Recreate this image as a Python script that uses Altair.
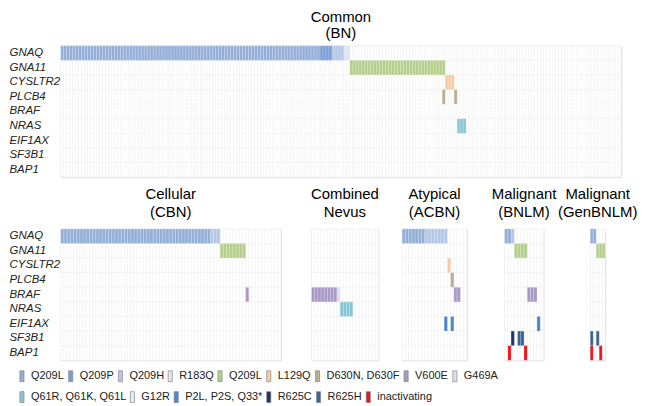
import altair as alt
import pandas as pd

GENES = ["GNAQ", "GNA11", "CYSLTR2", "PLCB4", "BRAF", "NRAS", "EIF1AX", "SF3B1", "BAP1"]

# legend row 1 (first colour scale)
KEYS_1 = ["GNAQ:Q209L", "GNAQ:Q209P", "GNAQ:Q209H", "GNAQ:R183Q", "GNA11:Q209L",
          "CYSLTR2:L129Q", "PLCB4:D630N, D630F", "BRAF:V600E", "BRAF:G469A"]
COLORS_1 = ["#93afd7", "#7a9fd7", "#b4c7e6", "#dbe5f3", "#b3cf8b",
            "#f9c9a3", "#b6ae8d", "#a898c7", "#e2dcec"]
# legend row 2 (second colour scale)
KEYS_2 = ["NRAS:Q61R, Q61K, Q61L", "NRAS:G12R", "EIF1AX:P2L, P2S, Q33*",
          "SF3B1:R625C", "SF3B1:R625H", "BAP1:inactivating"]
COLORS_2 = ["#86c6d5", "#dcedf3", "#4e84c9", "#1c355e", "#3b6396", "#e8141b"]

# panels: title, number of samples
TITLES = [["Common", "(BN)"], ["Cellular", "(CBN)"], ["Combined", "Nevus"],
          ["Atypical", "(ACBN)"], ["Malignant", "(BNLM)"], ["Malignant", "(GenBNLM)"]]
N_SAMPLES = [188, 69, 21, 20, 12, 5]
WIDTHS = [563, 221, 67, 65, 39, 15]
GAPS = [31, 24, 38, 47]

# mutation runs per panel: key, first sample, number of samples
BN_KEY = ["GNAQ:Q209L", "GNAQ:Q209P", "GNAQ:Q209H", "GNAQ:R183Q", "GNA11:Q209L",
          "CYSLTR2:L129Q", "PLCB4:D630N, D630F", "PLCB4:D630N, D630F", "NRAS:Q61R, Q61K, Q61L"]
BN_START = [0, 87, 91, 95, 97, 129, 128, 132, 133]
BN_COUNT = [87, 4, 4, 2, 32, 3, 1, 1, 3]

CBN_KEY = ["GNAQ:Q209L", "GNAQ:Q209H", "GNA11:Q209L", "BRAF:V600E"]
CBN_START = [0, 47, 50, 58]
CBN_COUNT = [47, 3, 8, 1]

COMB_KEY = ["BRAF:V600E", "BRAF:G469A", "NRAS:Q61R, Q61K, Q61L"]
COMB_START = [0, 8, 9]
COMB_COUNT = [8, 1, 4]

ACBN_KEY = ["GNAQ:Q209L", "GNAQ:Q209H", "CYSLTR2:L129Q", "PLCB4:D630N, D630F", "BRAF:V600E",
            "EIF1AX:P2L, P2S, Q33*", "EIF1AX:P2L, P2S, Q33*"]
ACBN_START = [0, 7, 14, 15, 16, 13, 15]
ACBN_COUNT = [7, 7, 1, 1, 2, 1, 1]

BNLM_KEY = ["GNAQ:Q209L", "GNAQ:Q209H", "GNA11:Q209L", "BRAF:V600E", "EIF1AX:P2L, P2S, Q33*",
            "SF3B1:R625C", "SF3B1:R625H", "BAP1:inactivating", "BAP1:inactivating"]
BNLM_START = [0, 2, 3, 7, 10, 2, 4, 1, 6]
BNLM_COUNT = [2, 1, 4, 3, 1, 1, 2, 1, 1]

GEN_KEY = ["GNAQ:Q209L", "GNA11:Q209L", "SF3B1:R625H", "SF3B1:R625H",
           "BAP1:inactivating", "BAP1:inactivating"]
GEN_START = [0, 2, 0, 2, 0, 3]
GEN_COUNT = [2, 3, 1, 1, 1, 1]

RUNS = [(BN_KEY, BN_START, BN_COUNT), (CBN_KEY, CBN_START, CBN_COUNT),
        (COMB_KEY, COMB_START, COMB_COUNT), (ACBN_KEY, ACBN_START, ACBN_COUNT),
        (BNLM_KEY, BNLM_START, BNLM_COUNT), (GEN_KEY, GEN_START, GEN_COUNT)]

FONT = "Liberation Sans"
BAR_PATH = "M-0.38,-1H0.38V1H-0.38Z"
LABEL_EXPR = "substring(datum.label, indexof(datum.label, ':') + 1)"


def make_legend(x, y, n):
    return alt.Legend(orient="none", legendX=x, legendY=y, direction="horizontal",
                      columns=n, labelExpr=LABEL_EXPR, symbolType=BAR_PATH,
                      symbolSize=121, symbolStrokeColor="#8a8a8a", symbolStrokeWidth=0.7,
                      symbolOpacity=1, labelFont=FONT, labelFontSize=11, labelColor="#222222",
                      columnPadding=0, labelOffset=3, padding=0)


LEG1 = make_legend(-45, 326, len(KEYS_1))
LEG2 = make_legend(-45, 347, len(KEYS_2))


def panel(i, show_axis, lh, off):
    n = N_SAMPLES[i]
    keys, starts, counts = RUNS[i]
    bg = pd.DataFrame([(s, g) for s in range(n) for g in GENES], columns=["s", "gene"])
    rows = []
    for k, st, c in zip(keys, starts, counts):
        gene = k.split(":")[0]
        grp = 1 if k in KEYS_1 else 2
        for s in range(st, st + c):
            rows.append({"s": s, "gene": gene, "key": k, "grp": grp})
    mut = pd.DataFrame(rows, columns=["s", "gene", "key", "grp"])

    xs = alt.Scale(domain=[0, n], nice=False, zero=False)
    ys = alt.Scale(domain=GENES, paddingInner=0, paddingOuter=0)
    if show_axis:
        yax = alt.Axis(labelAlign="left", labelPadding=52, ticks=False, tickSize=0,
                       domain=False, labelFont=FONT, labelFontStyle="italic",
                       labelFontSize=11.5, labelColor="#222222", labelBaseline="middle")
    else:
        yax = None
    enc = dict(x=alt.X("s:Q", scale=xs, axis=None), x2="e:Q",
               y=alt.Y("gene:N", scale=ys, axis=yax, title=None))

    bgl = (alt.Chart(bg).transform_calculate(e="datum.s + 1")
           .mark_rect(fill="white", stroke="#efefef", strokeWidth=0.5).encode(**enc))
    l1 = (alt.Chart(mut).transform_filter("datum.grp == 1").transform_calculate(e="datum.s + 1")
          .mark_rect(stroke="white", strokeWidth=0.4, strokeOpacity=0.5)
          .encode(**enc, color=alt.Color("key:N", title=None,
                                         scale=alt.Scale(domain=KEYS_1, range=COLORS_1),
                                         legend=LEG1)))
    l2 = (alt.Chart(mut).transform_filter("datum.grp == 2").transform_calculate(e="datum.s + 1")
          .mark_rect(stroke="white", strokeWidth=0.4, strokeOpacity=0.5)
          .encode(**enc, fill=alt.Fill("key:N", title=None,
                                       scale=alt.Scale(domain=KEYS_2, range=COLORS_2),
                                       legend=LEG2)))
    return alt.layer(bgl, l1, l2).properties(
        width=WIDTHS[i], height=132,
        title=alt.TitleParams(text=TITLES[i], font=FONT, fontSize=15, fontWeight="normal",
                              color="black", anchor="middle", frame="group",
                              lineHeight=lh, offset=off))


def spacer(w):
    return (alt.Chart(pd.DataFrame({"v": [0]})).mark_rect(opacity=0)
            .encode(x=alt.value(0), x2=alt.value(1), y=alt.value(0), y2=alt.value(1))
            .properties(width=w, height=132, view=alt.ViewBackground(strokeOpacity=0)))


top = panel(0, True, 16, 5)
p1 = panel(1, True, 18, 9)
p2 = panel(2, False, 18, 9)
p3 = panel(3, False, 18, 9)
p4 = panel(4, False, 18, 9)
p5 = panel(5, False, 18, 9)

row = alt.hconcat(p1, spacer(GAPS[0]), p2, spacer(GAPS[1]), p3, spacer(GAPS[2]), p4,
                  spacer(GAPS[3]), p5, spacing=0, bounds="flush")

chart = alt.vconcat(top, row, spacing=8).properties(
    padding={"left": 0, "top": 0, "right": 0, "bottom": 0}
).configure_view(stroke="#d9d9d9", strokeWidth=1)

chart.save("out.html", embed_options={"renderer": "svg", "actions": False})
